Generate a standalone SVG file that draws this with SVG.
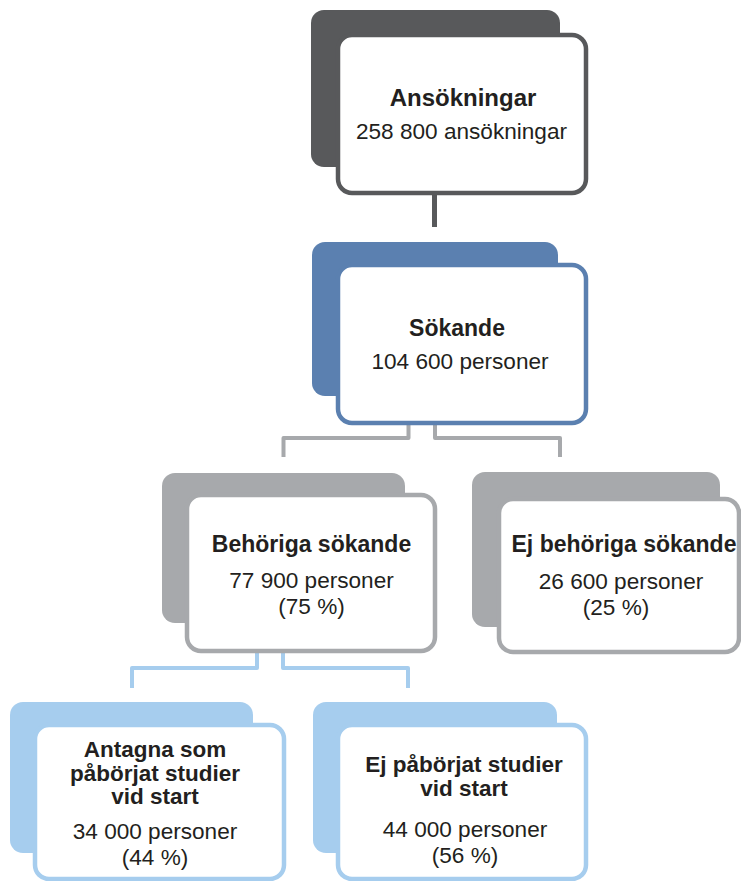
<svg xmlns="http://www.w3.org/2000/svg" width="741" height="881" viewBox="0 0 741 881">
<style>
text{font-family:"Liberation Sans",Arial,Helvetica,sans-serif;fill:#231f20;text-anchor:middle}
.t{font-weight:bold;font-size:23px}
.t2{font-weight:bold;font-size:22.5px}
.s{font-size:22.6px}
.front{fill:#fff;stroke-width:4.5}
.dark .back{fill:#58595b}.dark .front{stroke:#58595b}
.blue .back{fill:#5b80b0}.blue .front{stroke:#5b80b0}
.gray .back{fill:#a7a9ac}.gray .front{stroke:#a7a9ac}
.light .back{fill:#a6cdee}.light .front{stroke:#a6cdee}
.c{fill:none;stroke-linejoin:round}
</style>
<rect width="741" height="881" fill="#fff"/>
<g id="connectors">
<path class="c" d="M434.5,195 V227" stroke="#58595b" stroke-width="5"/>
<path class="c" d="M408.5,425 V438 H283.5 V457 M435,425 V438 H560 V457" stroke="#a7a9ac" stroke-width="4"/>
<path class="c" d="M257,653 V668 H132 V688 M283,653 V668 H408 V688" stroke="#a6cdee" stroke-width="4"/>
</g>
<g id="ansokningar" class="dark">
<rect class="back" x="311" y="10" width="249" height="157" rx="13"/>
<rect class="front" x="338" y="35" width="248" height="158" rx="14"/>
<text class="t" x="463" y="106" style="font-size:24px">Ansökningar</text>
<text class="s" x="461.5" y="139">258 800 ansökningar</text>
</g>
<g id="sokande" class="blue">
<rect class="back" x="312" y="242" width="246" height="154" rx="13"/>
<rect class="front" x="338" y="265" width="248" height="158" rx="14"/>
<text class="t" x="457" y="336">Sökande</text>
<text class="s" x="460" y="369">104 600 personer</text>
</g>
<g id="behoriga" class="gray">
<rect class="back" x="162" y="473" width="243" height="150" rx="13"/>
<rect class="front" x="187" y="495" width="248" height="156" rx="14"/>
<text class="t" x="311.5" y="552">Behöriga sökande</text>
<text class="s" x="311.5" y="588">77 900 personer</text>
<text class="s" x="311.5" y="614">(75 %)</text>
</g>
<g id="ej-behoriga" class="gray">
<rect class="back" x="472" y="472" width="248" height="155" rx="13"/>
<rect class="front" x="499" y="499" width="240" height="153" rx="14"/>
<text class="t" x="624" y="552">Ej behöriga sökande</text>
<text class="s" x="621" y="589">26 600 personer</text>
<text class="s" x="616" y="615">(25 %)</text>
</g>
<g id="antagna" class="light">
<rect class="back" x="10" y="702" width="243" height="151" rx="13"/>
<rect class="front" x="35" y="725" width="249" height="154" rx="14"/>
<text class="t2" x="155" y="757">Antagna som</text>
<text class="t2" x="155" y="780.5">påbörjat studier</text>
<text class="t2" x="155" y="804">vid start</text>
<text class="s" x="155" y="839">34 000 personer</text>
<text class="s" x="155" y="865">(44 %)</text>
</g>
<g id="ej-paborjat" class="light">
<rect class="back" x="313" y="702" width="244" height="151" rx="13"/>
<rect class="front" x="338" y="725" width="248" height="154" rx="14"/>
<text class="t2" x="464" y="772">Ej påbörjat studier</text>
<text class="t2" x="464" y="795.5">vid start</text>
<text class="s" x="465" y="837">44 000 personer</text>
<text class="s" x="465" y="863">(56 %)</text>
</g>
</svg>
